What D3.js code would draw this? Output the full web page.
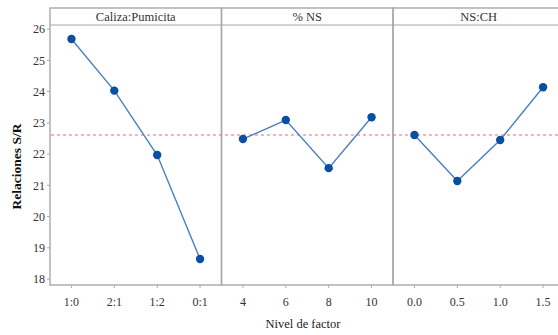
<!DOCTYPE html>
<html>
<head>
<meta charset="utf-8">
<script src="https://cdn.jsdelivr.net/npm/d3@7.9.0/dist/d3.min.js"></script>
<style>
  html, body { margin: 0; padding: 0; background: #fff; }
  svg { display: block; }
</style>
</head>
<body>
<div id="chart"></div>
<script>
const factors = ['Caliza:Pumicita', '% NS', 'NS:CH'];
const levelsCaliza = ['1:0', '2:1', '1:2', '0:1'];
const levelsNS = ['4', '6', '8', '10'];
const levelsNSCH = ['0.0', '0.5', '1.0', '1.5'];
const valuesCaliza = [25.68, 24.03, 21.97, 18.64];
const valuesNS = [22.48, 23.09, 21.55, 23.18];
const valuesNSCH = [22.61, 21.14, 22.45, 24.14];
const grandMean = 22.61;
const yTicks = [18, 19, 20, 21, 22, 23, 24, 25, 26];

const panels = factors.map((name, i) => ({
  name,
  levels: [levelsCaliza, levelsNS, levelsNSCH][i],
  values: [valuesCaliza, valuesNS, valuesNSCH][i],
}));

const width = 558;
const height = 335;
const plotLeft = 50;
const plotTop = 8;
const stripH = 17;
const plotBottom = 285;
const panelW = 171.5;
const serif = 'Liberation Serif';

const svg = d3.select('#chart')
  .append('svg')
  .attr('width', width)
  .attr('height', height)
  .style('font-family', serif);

const yScale = d3.scaleLinear()
  .domain([17.81, 26.13])
  .range([plotBottom, plotTop + stripH]);

// y axis ticks and labels
const yAxis = svg.append('g');
yTicks.forEach(t => {
  yAxis.append('line')
    .attr('x1', plotLeft - 3).attr('x2', plotLeft)
    .attr('y1', yScale(t)).attr('y2', yScale(t))
    .attr('stroke', '#aaa').attr('stroke-width', 1);
  yAxis.append('text')
    .attr('x', plotLeft - 5)
    .attr('y', yScale(t))
    .attr('dy', '0.35em')
    .attr('text-anchor', 'end')
    .attr('font-size', 12)
    .attr('fill', '#333')
    .text(t);
});

svg.append('text')
  .attr('transform', `translate(21, ${(plotTop + plotBottom) / 2 + 20}) rotate(-90)`)
  .attr('text-anchor', 'middle')
  .attr('font-size', 13.5)
  .attr('font-weight', 'bold')
  .attr('fill', '#111')
  .text('Relaciones S/R');

svg.append('text')
  .attr('x', 303)
  .attr('y', 328)
  .attr('text-anchor', 'middle')
  .attr('font-size', 12.5)
  .attr('fill', '#222')
  .text('Nivel de factor');

panels.forEach((p, i) => {
  const x0 = plotLeft + i * panelW;
  const g = svg.append('g');

  const xScale = d3.scalePoint()
    .domain(p.levels)
    .range([x0, x0 + panelW])
    .padding(0.5);

  // panel frame
  g.append('rect')
    .attr('x', x0).attr('y', plotTop)
    .attr('width', panelW).attr('height', plotBottom - plotTop)
    .attr('fill', 'none')
    .attr('stroke', '#a8a8a8')
    .attr('stroke-width', 1.4);

  g.append('line')
    .attr('x1', x0).attr('x2', x0 + panelW)
    .attr('y1', plotTop + stripH).attr('y2', plotTop + stripH)
    .attr('stroke', '#a8a8a8')
    .attr('stroke-width', 1.2);

  g.append('text')
    .attr('x', x0 + panelW / 2)
    .attr('y', plotTop + stripH - 4)
    .attr('text-anchor', 'middle')
    .attr('font-size', 12.5)
    .attr('fill', '#333')
    .text(p.name);

  // x ticks
  p.levels.forEach(l => {
    g.append('line')
      .attr('x1', xScale(l)).attr('x2', xScale(l))
      .attr('y1', plotBottom).attr('y2', plotBottom + 3)
      .attr('stroke', '#aaa');
    g.append('text')
      .attr('x', xScale(l))
      .attr('y', plotBottom + 17)
      .attr('dy', '0.35em')
      .attr('text-anchor', 'middle')
      .attr('font-size', 12)
      .attr('fill', '#333')
      .text(l);
  });

  p.xScale = xScale;
});

// grand mean reference line
svg.append('line')
  .attr('x1', plotLeft + 1).attr('x2', width)
  .attr('y1', yScale(grandMean)).attr('y2', yScale(grandMean))
  .attr('stroke', '#ee6a72')
  .attr('stroke-width', 1)
  .attr('stroke-dasharray', '3,3');

panels.forEach(p => {
  const pts = p.levels.map((l, j) => [p.xScale(l), yScale(p.values[j])]);
  svg.append('path')
    .attr('d', d3.line()(pts))
    .attr('fill', 'none')
    .attr('stroke', '#4a7fbf')
    .attr('stroke-width', 1.4);
  svg.append('g')
    .selectAll('circle')
    .data(pts)
    .join('circle')
    .attr('cx', d => d[0])
    .attr('cy', d => d[1])
    .attr('r', 4.2)
    .attr('fill', '#0b4fa3');
});
</script>
</body>
</html>
